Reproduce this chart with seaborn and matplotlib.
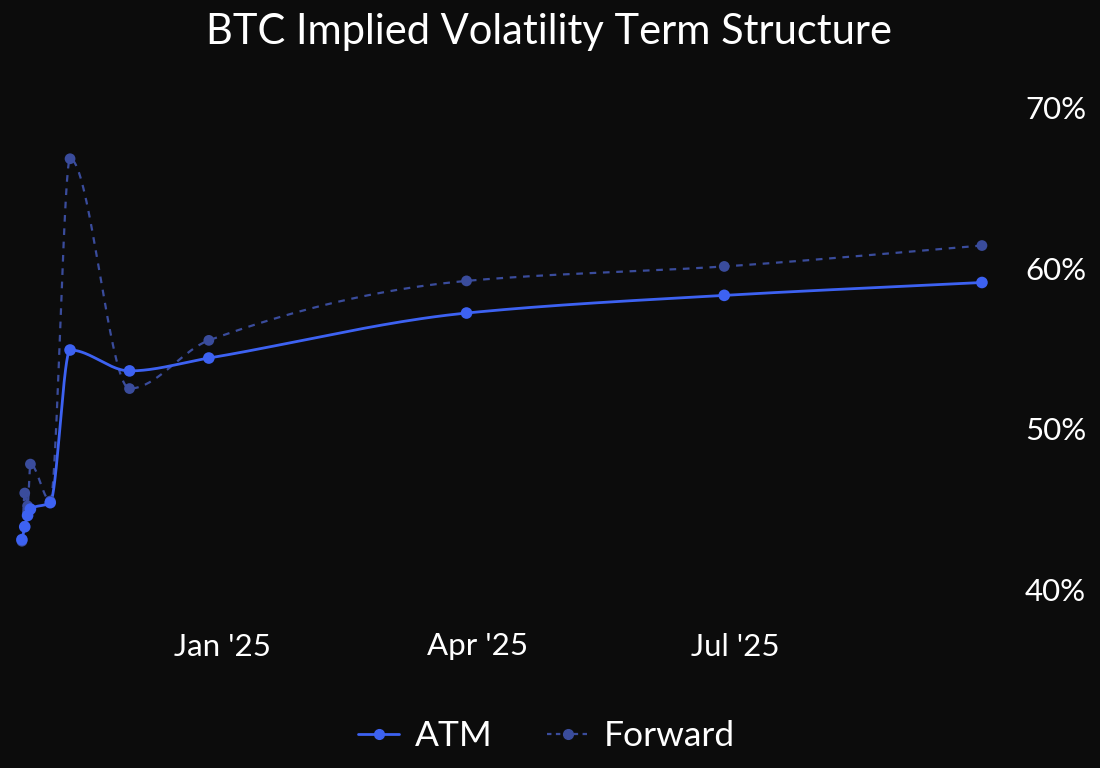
import numpy as np
import pandas as pd
import matplotlib
matplotlib.use("Agg")
import matplotlib.pyplot as plt
import matplotlib.dates as mdates
from matplotlib.lines import Line2D
import seaborn as sns

# ---- data ----
atm_dates = ["2024-10-22", "2024-10-23", "2024-10-24", "2024-10-25", "2024-11-01",
             "2024-11-08", "2024-11-29", "2024-12-27", "2025-03-28", "2025-06-27",
             "2025-09-26"]
atm_vals = [43.1, 43.9, 44.6, 45.0, 45.4, 54.9, 53.6, 54.4, 57.2, 58.3, 59.1]

fwd_dates = ["2024-10-22", "2024-10-23", "2024-10-24", "2024-10-25", "2024-11-01",
             "2024-11-08", "2024-11-29", "2024-12-27", "2025-03-28", "2025-06-27",
             "2025-09-26"]
fwd_vals = [43.0, 46.0, 45.2, 47.8, 45.5, 66.8, 52.5, 55.5, 59.2, 60.1, 61.4]

xtick_dates = ["2025-01-01", "2025-04-01", "2025-07-01"]
xtick_labels = ["Jan '25", "Apr '25", "Jul '25"]
ytick_vals = [40, 50, 60, 70]
ytick_labels = ["40%", "50%", "60%", "70%"]

title = "BTC Implied Volatility Term Structure"
series_names = ["ATM", "Forward"]

# ---- style ----
BG = "#0c0c0c"
ATM_C = "#3d62f2"
FWD_C = "#3a4c9c"
FONT = ["Lato", "DejaVu Sans"]

sns.set_theme(style="dark")
plt.rcParams["font.family"] = FONT


def pchip(x, y, xs):
    """Monotone cubic rendering of the line through the given points."""
    x = np.asarray(x, float)
    y = np.asarray(y, float)
    h = np.diff(x)
    d = np.diff(y) / h
    n = len(x)
    m = np.zeros(n)
    for k in range(1, n - 1):
        if d[k - 1] * d[k] > 0:
            w1 = 2 * h[k] + h[k - 1]
            w2 = h[k] + 2 * h[k - 1]
            m[k] = (w1 + w2) / (w1 / d[k - 1] + w2 / d[k])
    m[0] = d[0]
    m[-1] = d[-1]
    idx = np.clip(np.searchsorted(x, xs) - 1, 0, n - 2)
    t = (xs - x[idx]) / h[idx]
    h00 = 2 * t**3 - 3 * t**2 + 1
    h10 = t**3 - 2 * t**2 + t
    h01 = -2 * t**3 + 3 * t**2
    h11 = t**3 - t**2
    return (h00 * y[idx] + h10 * h[idx] * m[idx] + h01 * y[idx + 1]
            + h11 * h[idx] * m[idx + 1])


def smooth_frame(dates, vals):
    xn = mdates.date2num(pd.to_datetime(dates))
    parts = []
    for a, b in zip(xn[:-1], xn[1:]):
        parts.append(np.linspace(a, b, 40, endpoint=False))
    parts.append([xn[-1]])
    xs = np.concatenate(parts)
    return pd.DataFrame({"x": xs, "y": pchip(xn, vals, xs)})


atm_df = pd.DataFrame({"x": mdates.date2num(pd.to_datetime(atm_dates)), "y": atm_vals})
fwd_df = pd.DataFrame({"x": mdates.date2num(pd.to_datetime(fwd_dates)), "y": fwd_vals})
atm_s = smooth_frame(atm_dates, atm_vals)
fwd_s = smooth_frame(fwd_dates, fwd_vals)

fig = plt.figure(figsize=(11, 7.68), dpi=100, facecolor=BG)
ax = fig.add_axes([10 / 1100, 148 / 768, 990 / 1100, 540 / 768])
ax.set_facecolor(BG)

sns.lineplot(data=fwd_s, x="x", y="y", ax=ax, color=FWD_C, lw=1.6,
             dashes=False, linestyle=(0, (3, 3)), sort=False)
sns.scatterplot(data=fwd_df, x="x", y="y", ax=ax, color=FWD_C, s=60,
                edgecolor="none", zorder=3)
sns.lineplot(data=atm_s, x="x", y="y", ax=ax, color=ATM_C, lw=2.0, sort=False)
sns.scatterplot(data=atm_df, x="x", y="y", ax=ax, color=ATM_C, s=70,
                edgecolor="none", zorder=4)

ax.set_xlim(mdates.date2num(pd.Timestamp("2024-10-17 19:00")),
            mdates.date2num(pd.Timestamp("2025-10-02 09:00")))
ax.set_ylim(38.1, 71.7)

ax.set_xticks(mdates.date2num(pd.to_datetime(xtick_dates)))
ax.set_xticklabels(xtick_labels)
ax.set_yticks(ytick_vals)
ax.set_yticklabels(ytick_labels)
ax.yaxis.tick_right()
ax.tick_params(axis="both", length=0, colors="white", labelsize=22.5)
ax.tick_params(axis="x", pad=9)
ax.tick_params(axis="y", pad=18)
ax.set_xlabel("")
ax.set_ylabel("")
ax.grid(False)
for sp in ax.spines.values():
    sp.set_visible(False)

fig.text(0.499, 1 - 32 / 768, title, ha="center", va="center",
         color="white", fontsize=30, fontweight="normal")

handles = [
    Line2D([0], [0], color=ATM_C, lw=2.0, marker="o", markersize=7),
    Line2D([0], [0], color=FWD_C, lw=1.6, linestyle=(0, (2, 2)), marker="o",
           markersize=7),
]
leg = fig.legend(handles, series_names, loc="center", bbox_to_anchor=(0.497, 1 - 736 / 768),
                 ncol=2, frameon=False, fontsize=25.5, labelcolor="white",
                 handlelength=1.15, columnspacing=1.55, handletextpad=0.45, numpoints=1)

fig.savefig("out.png", dpi=100, facecolor=BG)
